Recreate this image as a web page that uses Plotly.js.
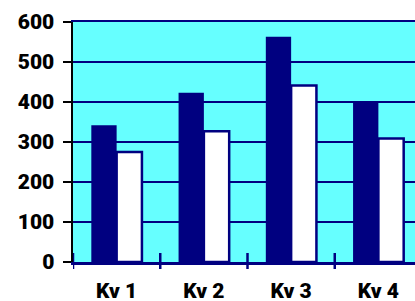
<!DOCTYPE html>
<html>
<head>
<meta charset="utf-8">
<script src="https://cdn.plot.ly/plotly-3.0.1.min.js"></script>
<style>
html,body{margin:0;padding:0;overflow:hidden;background:#fff;}
#chart{width:430px;height:301px;}
</style>
</head>
<body>
<div id="chart"></div>
<script>
const categories = ["Kv 1", "Kv 2", "Kv 3", "Kv 4"];
const seriesA = [342, 423, 563, 401];
const seriesB = [275, 327, 441, 309];
const yTicks = [0, 100, 200, 300, 400, 500, 600];

const navy = "#000080";
const cyan = "#66FFFF";
const font = {family: "Roboto", size: 21, color: "#000", weight: 900};

const traces = [
  {type: "bar", x: categories, y: seriesA, name: "A",
   marker: {color: navy, line: {color: navy, width: 0}}},
  {type: "bar", x: categories, y: seriesB, name: "B",
   marker: {color: "#FFFFFF", line: {color: navy, width: 2.5}}}
];

const tickShapes = categories.map((c, i) => ({
  type: "line", xref: "x", yref: "paper",
  x0: i - 0.5, x1: i - 0.5, y0: -7/240, y1: 9/240,
  line: {color: navy, width: 2.5}, layer: "above"
}));

const layout = {
  width: 430, height: 301,
  margin: {l: 73, r: 8, t: 22, b: 39},
  paper_bgcolor: "#fff",
  plot_bgcolor: cyan,
  showlegend: false,
  barmode: "group",
  bargap: 0.42,
  bargroupgap: 0,
  font: font,
  xaxis: {
    type: "category", range: [-0.5, 3.5],
    showline: true, linecolor: navy, linewidth: 2.5, mirror: true,
    showgrid: false, ticks: "", ticklabelstandoff: 8,
    tickfont: font, fixedrange: true
  },
  yaxis: {
    range: [0, 600], tickvals: yTicks, ticktext: yTicks.map(String),
    showline: true, linecolor: "#000", linewidth: 2.5,
    ticks: "outside", ticklen: 8, tickwidth: 2.5, tickcolor: "#000",
    showgrid: true, gridcolor: navy, gridwidth: 2.5,
    zeroline: false, tickfont: font, ticklabelstandoff: 4, fixedrange: true
  },
  shapes: tickShapes
};

Plotly.newPlot("chart", traces, layout, {displayModeBar: false, staticPlot: true});
</script>
</body>
</html>
